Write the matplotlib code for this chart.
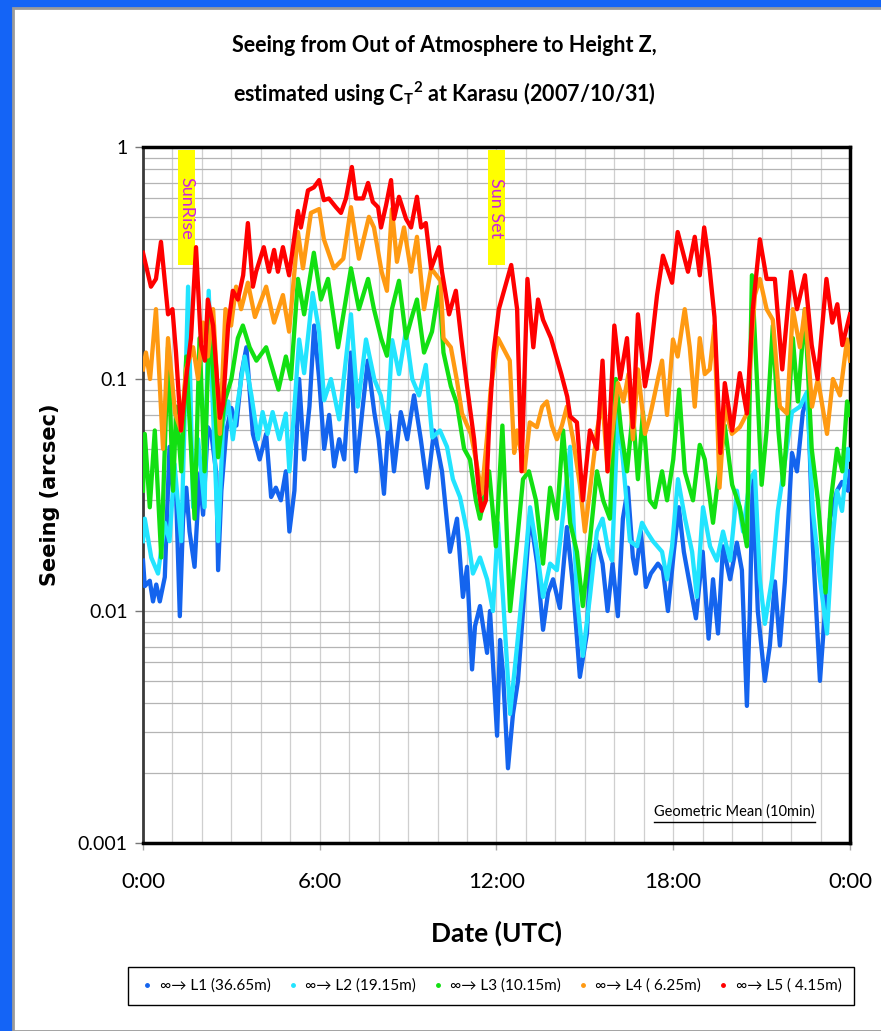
import matplotlib
matplotlib.use("Agg")
import matplotlib.pyplot as plt
from matplotlib.patches import Rectangle
from matplotlib.lines import Line2D
from matplotlib.ticker import FixedLocator, NullFormatter, LogLocator

# Seeing (arcsec), hours UTC
l1_hours = [0.0, 0.06, 0.23, 0.34, 0.45, 0.57, 0.74, 0.9, 1.02, 1.13, 1.25, 1.36, 1.47, 1.58, 1.75, 1.92,
            2.04, 2.2, 2.32, 2.49, 2.55, 2.66, 2.83, 3.0, 3.17, 3.34, 3.51, 3.73, 3.96, 4.18, 4.35, 4.51,
            4.68, 4.85, 4.97, 5.14, 5.3, 5.47, 5.65, 5.81, 5.98, 6.15, 6.32, 6.49, 6.66, 6.83, 7.06, 7.23,
            7.46, 7.63, 7.85, 8.0, 8.18, 8.35, 8.52, 8.75, 8.97, 9.2, 9.43, 9.65, 9.88, 10.15, 10.42, 10.66,
            10.86, 11.0, 11.17, 11.27, 11.44, 11.68, 11.78, 12.02, 12.12, 12.22, 12.39, 12.56, 12.73, 12.9,
            13.14, 13.38, 13.58, 13.75, 13.92, 14.15, 14.39, 14.6, 14.83, 15.07, 15.17, 15.41, 15.6, 15.77,
            15.94, 16.12, 16.29, 16.46, 16.63, 16.73, 16.9, 17.07, 17.24, 17.48, 17.65, 17.82, 18.02, 18.19,
            18.36, 18.53, 18.77, 19.0, 19.2, 19.35, 19.52, 19.69, 19.93, 20.16, 20.33, 20.5, 20.6, 20.7,
            20.87, 21.11, 21.28, 21.45, 21.62, 21.79, 22.03, 22.2, 22.4, 22.57, 22.74, 22.98, 23.15, 23.32,
            23.56, 23.73, 23.93, 24.0]
l1_seeing = [0.0165, 0.0128, 0.0135, 0.011, 0.013, 0.011, 0.014, 0.051, 0.033, 0.03, 0.0095, 0.025, 0.034,
             0.022, 0.0155, 0.039, 0.026, 0.062, 0.058, 0.039, 0.015, 0.033, 0.06, 0.075, 0.063, 0.105, 0.137,
             0.058, 0.045, 0.058, 0.031, 0.034, 0.03, 0.04, 0.022, 0.033, 0.10, 0.045, 0.076, 0.17, 0.10,
             0.05, 0.07, 0.042, 0.055, 0.045, 0.13, 0.04, 0.076, 0.12, 0.072, 0.055, 0.032, 0.07, 0.04,
             0.072, 0.055, 0.085, 0.055, 0.034, 0.06, 0.04, 0.018, 0.025, 0.0115, 0.0155, 0.0056, 0.0086,
             0.0105, 0.0066, 0.01, 0.0029, 0.0075, 0.0054, 0.0021, 0.0036, 0.005, 0.01, 0.026, 0.016, 0.0083,
             0.012, 0.0137, 0.0103, 0.023, 0.0127, 0.0052, 0.008, 0.0156, 0.02, 0.016, 0.01, 0.016, 0.0095,
             0.025, 0.034, 0.017, 0.0145, 0.022, 0.0127, 0.0145, 0.016, 0.015, 0.01, 0.018, 0.028, 0.018,
             0.0137, 0.0093, 0.018, 0.0076, 0.0137, 0.008, 0.019, 0.0137, 0.0197, 0.015, 0.0039, 0.01, 0.038,
             0.01, 0.005, 0.0071, 0.0134, 0.0071, 0.0134, 0.048, 0.04, 0.072, 0.085, 0.019, 0.005, 0.01,
             0.025, 0.033, 0.036, 0.033, 0.04]

l2_hours = [0.0, 0.06, 0.28, 0.51, 0.74, 0.9, 1.07, 1.3, 1.53, 1.7, 1.87, 2.09, 2.23, 2.38, 2.55, 2.72, 2.89,
            3.05, 3.22, 3.45, 3.68, 3.9, 4.06, 4.23, 4.4, 4.63, 4.85, 4.97, 5.14, 5.3, 5.47, 5.76, 5.98, 6.15,
            6.38, 6.66, 7.06, 7.29, 7.57, 7.85, 8.07, 8.29, 8.46, 8.69, 8.92, 9.14, 9.37, 9.6, 9.82, 10.08,
            10.32, 10.52, 10.76, 11.0, 11.2, 11.44, 11.68, 11.88, 12.05, 12.22, 12.46, 12.7, 12.9, 13.14,
            13.38, 13.58, 13.82, 14.05, 14.26, 14.5, 14.73, 14.93, 15.17, 15.41, 15.6, 15.8, 15.92, 16.12,
            16.29, 16.53, 16.77, 16.94, 17.1, 17.31, 17.62, 17.79, 17.96, 18.16, 18.4, 18.64, 18.8, 19.01,
            19.25, 19.48, 19.69, 19.93, 20.16, 20.37, 20.6, 20.77, 20.94, 21.11, 21.35, 21.55, 21.79, 22.03,
            22.3, 22.54, 22.74, 22.98, 23.22, 23.39, 23.56, 23.73, 23.93, 24.0]
l2_seeing = [0.02, 0.025, 0.017, 0.0145, 0.024, 0.02, 0.043, 0.02, 0.25, 0.028, 0.055, 0.028, 0.24, 0.071,
             0.02, 0.065, 0.08, 0.055, 0.08, 0.125, 0.085, 0.055, 0.072, 0.058, 0.072, 0.055, 0.071, 0.04,
             0.076, 0.148, 0.106, 0.235, 0.16, 0.081, 0.10, 0.067, 0.19, 0.076, 0.148, 0.10, 0.085, 0.061,
             0.147, 0.105, 0.16, 0.10, 0.085, 0.115, 0.056, 0.06, 0.051, 0.037, 0.031, 0.022, 0.0145, 0.017,
             0.0137, 0.01, 0.024, 0.0115, 0.0036, 0.0071, 0.013, 0.028, 0.018, 0.0115, 0.016, 0.015, 0.026,
             0.051, 0.0115, 0.0064, 0.0115, 0.022, 0.025, 0.018, 0.0165, 0.071, 0.045, 0.02, 0.019, 0.024,
             0.022, 0.02, 0.018, 0.0137, 0.019, 0.037, 0.025, 0.018, 0.0115, 0.028, 0.019, 0.0165, 0.022,
             0.0165, 0.033, 0.022, 0.037, 0.04, 0.0137, 0.0088, 0.0137, 0.027, 0.044, 0.072, 0.076, 0.088,
             0.027, 0.0137, 0.008, 0.019, 0.033, 0.027, 0.05, 0.045]

l3_hours = [0.0, 0.06, 0.23, 0.4, 0.62, 0.85, 1.02, 1.13, 1.3, 1.47, 1.75, 1.92, 2.09, 2.26, 2.55, 2.77, 3.0,
            3.22, 3.39, 3.62, 3.85, 4.18, 4.4, 4.6, 4.85, 5.02, 5.26, 5.47, 5.8, 6.04, 6.28, 6.62, 7.06, 7.33,
            7.64, 7.84, 8.08, 8.28, 8.45, 8.69, 8.93, 9.1, 9.3, 9.54, 9.81, 10.05, 10.2, 10.45, 10.66, 10.9,
            11.1, 11.3, 11.44, 11.75, 11.98, 12.2, 12.46, 12.7, 12.9, 13.1, 13.34, 13.58, 13.82, 14.05, 14.26,
            14.5, 14.73, 14.93, 15.17, 15.41, 15.62, 15.85, 16.05, 16.23, 16.43, 16.63, 16.8, 16.97, 17.2,
            17.38, 17.62, 17.79, 18.0, 18.2, 18.39, 18.67, 18.9, 19.07, 19.35, 19.52, 19.75, 20.0, 20.26,
            20.5, 20.67, 20.84, 21.0, 21.17, 21.38, 21.57, 21.73, 21.9, 22.06, 22.23, 22.47, 22.7, 22.91,
            23.17, 23.35, 23.56, 23.74, 23.9, 24.0]
l3_seeing = [0.033, 0.058, 0.028, 0.06, 0.017, 0.137, 0.033, 0.076, 0.04, 0.125, 0.025, 0.15, 0.04, 0.185,
             0.046, 0.08, 0.10, 0.15, 0.17, 0.137, 0.12, 0.137, 0.11, 0.09, 0.125, 0.10, 0.27, 0.19, 0.35,
             0.22, 0.27, 0.137, 0.30, 0.20, 0.27, 0.20, 0.15, 0.126, 0.20, 0.265, 0.15, 0.18, 0.22, 0.13,
             0.16, 0.25, 0.13, 0.093, 0.078, 0.05, 0.045, 0.03, 0.025, 0.04, 0.019, 0.063, 0.01, 0.02, 0.037,
             0.04, 0.03, 0.016, 0.034, 0.025, 0.06, 0.024, 0.018, 0.0105, 0.02, 0.04, 0.03, 0.025, 0.10, 0.06,
             0.04, 0.072, 0.037, 0.072, 0.03, 0.028, 0.04, 0.03, 0.045, 0.09, 0.04, 0.03, 0.052, 0.045, 0.024,
             0.037, 0.063, 0.035, 0.028, 0.019, 0.28, 0.10, 0.035, 0.06, 0.17, 0.06, 0.035, 0.07, 0.15, 0.08,
             0.20, 0.05, 0.03, 0.012, 0.03, 0.05, 0.04, 0.08, 0.07]

l4_hours = [0.0, 0.1, 0.24, 0.44, 0.68, 0.85, 1.09, 1.29, 1.46, 1.7, 1.87, 2.04, 2.2, 2.38, 2.61, 2.8, 2.99,
            3.16, 3.33, 3.56, 3.8, 4.18, 4.45, 4.75, 4.96, 5.26, 5.43, 5.7, 5.98, 6.14, 6.48, 6.8, 7.06, 7.33,
            7.67, 7.84, 8.1, 8.28, 8.45, 8.62, 8.86, 9.1, 9.3, 9.54, 9.78, 10.1, 10.2, 10.45, 10.66, 10.83,
            11.13, 11.3, 11.5, 11.7, 11.8, 12.05, 12.45, 12.6, 12.7, 12.95, 13.13, 13.37, 13.55, 13.71, 13.88,
            14.05, 14.22, 14.39, 14.6, 14.83, 15.0, 15.17, 15.41, 15.6, 15.77, 15.94, 16.12, 16.31, 16.48,
            16.63, 16.8, 17.04, 17.2, 17.48, 17.62, 17.79, 17.99, 18.15, 18.39, 18.56, 18.73, 18.9, 19.07,
            19.24, 19.4, 19.57, 19.75, 19.99, 20.26, 20.5, 20.77, 20.94, 21.17, 21.38, 21.62, 21.86, 22.06,
            22.3, 22.47, 22.71, 22.91, 23.22, 23.42, 23.66, 23.9, 24.0]
l4_seeing = [0.11, 0.13, 0.10, 0.20, 0.05, 0.15, 0.071, 0.06, 0.11, 0.137, 0.10, 0.175, 0.125, 0.20, 0.058,
             0.20, 0.17, 0.25, 0.20, 0.26, 0.185, 0.25, 0.175, 0.23, 0.16, 0.43, 0.30, 0.52, 0.54, 0.40, 0.30,
             0.33, 0.55, 0.33, 0.50, 0.45, 0.29, 0.24, 0.54, 0.32, 0.45, 0.29, 0.41, 0.20, 0.30, 0.265, 0.15,
             0.137, 0.098, 0.071, 0.058, 0.045, 0.032, 0.06, 0.09, 0.15, 0.12, 0.048, 0.06, 0.04, 0.065,
             0.062, 0.076, 0.08, 0.063, 0.055, 0.063, 0.076, 0.055, 0.035, 0.022, 0.033, 0.06, 0.08, 0.04,
             0.06, 0.096, 0.08, 0.105, 0.055, 0.11, 0.058, 0.068, 0.10, 0.12, 0.07, 0.148, 0.125, 0.20, 0.137,
             0.076, 0.15, 0.105, 0.11, 0.17, 0.034, 0.076, 0.058, 0.062, 0.071, 0.23, 0.27, 0.20, 0.18, 0.076,
             0.071, 0.20, 0.137, 0.20, 0.076, 0.10, 0.058, 0.10, 0.085, 0.148, 0.12]

l5_hours = [0.0, 0.27, 0.44, 0.61, 0.85, 1.0, 1.12, 1.29, 1.46, 1.63, 1.8, 1.97, 2.1, 2.2, 2.38, 2.61, 2.72,
            2.89, 3.05, 3.22, 3.4, 3.56, 3.73, 3.84, 4.1, 4.28, 4.45, 4.58, 4.75, 4.96, 5.26, 5.36, 5.6, 5.8,
            5.98, 6.14, 6.31, 6.55, 6.72, 6.89, 7.09, 7.23, 7.47, 7.64, 7.8, 7.98, 8.08, 8.25, 8.42, 8.52,
            8.69, 8.93, 9.1, 9.3, 9.44, 9.6, 9.78, 10.05, 10.15, 10.39, 10.62, 10.8, 11.0, 11.24, 11.4, 11.5,
            11.64, 11.75, 11.9, 12.08, 12.5, 12.7, 12.85, 13.05, 13.25, 13.41, 13.58, 13.85, 14.2, 14.4, 14.5,
            14.73, 14.93, 15.17, 15.41, 15.6, 15.77, 16.0, 16.2, 16.43, 16.63, 16.8, 17.04, 17.2, 17.45,
            17.65, 17.96, 18.15, 18.5, 18.73, 18.9, 19.05, 19.2, 19.4, 19.6, 19.75, 20.0, 20.26, 20.5, 20.7,
            20.94, 21.17, 21.45, 21.7, 22.0, 22.2, 22.47, 22.7, 22.9, 23.2, 23.4, 23.57, 23.74, 24.0]
l5_seeing = [0.35, 0.25, 0.27, 0.39, 0.19, 0.20, 0.13, 0.06, 0.10, 0.15, 0.37, 0.14, 0.12, 0.22, 0.17, 0.068,
             0.078, 0.17, 0.24, 0.22, 0.28, 0.47, 0.25, 0.29, 0.37, 0.29, 0.36, 0.29, 0.37, 0.28, 0.53, 0.45,
             0.65, 0.67, 0.72, 0.59, 0.60, 0.55, 0.52, 0.60, 0.82, 0.60, 0.60, 0.70, 0.58, 0.55, 0.45, 0.56,
             0.72, 0.49, 0.61, 0.49, 0.45, 0.61, 0.45, 0.47, 0.30, 0.37, 0.29, 0.19, 0.24, 0.15, 0.093, 0.055,
             0.033, 0.027, 0.030, 0.063, 0.13, 0.20, 0.31, 0.20, 0.04, 0.27, 0.137, 0.22, 0.18, 0.15, 0.105,
             0.084, 0.069, 0.065, 0.03, 0.06, 0.05, 0.12, 0.04, 0.17, 0.10, 0.15, 0.062, 0.19, 0.093, 0.12,
             0.23, 0.34, 0.26, 0.43, 0.29, 0.41, 0.28, 0.45, 0.33, 0.185, 0.048, 0.096, 0.06, 0.106, 0.071,
             0.20, 0.40, 0.27, 0.27, 0.11, 0.29, 0.20, 0.28, 0.14, 0.10, 0.27, 0.175, 0.21, 0.14, 0.19]

series_labels = ["\u221e\u2192 L1 (36.65m)", "\u221e\u2192 L2 (19.15m)", "\u221e\u2192 L3 (10.15m)",
                 "\u221e\u2192 L4 ( 6.25m)", "\u221e\u2192 L5 ( 4.15m)"]
series_colors = ["#1464EE", "#22E4FF", "#12E012", "#FF9A12", "#FF0000"]
x_ticks = [0, 6, 12, 18, 24]
x_tick_labels = ["0:00", "6:00", "12:00", "18:00", "0:00"]
y_ticks = [0.001, 0.01, 0.1, 1]
y_tick_labels = ["0.001", "0.01", "0.1", "1"]

NARROW = ["Lato", "DejaVu Sans"]

fig = plt.figure(figsize=(8.81, 10.31), dpi=100)
fig.patch.set_facecolor("#1464F6")
# white slide panel
fig.add_artist(Rectangle((13 / 881, 0), 1, 1 - 8 / 1031, transform=fig.transFigure,
                         facecolor="white", edgecolor="#9a9a9a", lw=2, zorder=0))

ax = fig.add_axes([143 / 881, 1 - 843 / 1031, 707 / 881, 696 / 1031])

all_hours = [l1_hours, l2_hours, l3_hours, l4_hours, l5_hours]
all_seeing = [l1_seeing, l2_seeing, l3_seeing, l4_seeing, l5_seeing]
for hrs, vals, col, lab in zip(all_hours, all_seeing, series_colors, series_labels):
    ax.plot(hrs, vals, color=col, lw=3.1, label=lab, solid_joinstyle="round", zorder=3)

ax.set_yscale("log")
ax.set_ylim(0.001, 1)
ax.set_xlim(0, 24)

ax.yaxis.set_major_locator(FixedLocator(y_ticks))
ax.set_yticklabels(y_tick_labels, family=NARROW, fontsize=14)
ax.yaxis.set_minor_locator(LogLocator(base=10, subs=range(2, 10)))
ax.yaxis.set_minor_formatter(NullFormatter())
ax.set_xticks(x_ticks)
ax.set_xticklabels(x_tick_labels, family=NARROW, fontsize=16)
ax.set_xticks(range(25), minor=True)

ax.grid(True, which="both", axis="y", color="#b4b4b4", lw=0.9)
ax.grid(True, which="both", axis="x", color="#cfcfcf", lw=0.9)
ax.set_axisbelow(True)
ax.tick_params(axis="y", which="major", direction="out", length=6, width=1, color="#777777", pad=5)
ax.tick_params(axis="y", which="minor", length=0)
ax.tick_params(axis="x", which="major", direction="out", length=5, width=1, color="#aaaaaa", pad=16)
ax.tick_params(axis="x", which="minor", length=0)

for side in ["top", "right", "bottom"]:
    ax.spines[side].set_linewidth(2.5)
    ax.spines[side].set_color("black")
ax.spines["left"].set_linewidth(2)
ax.spines["left"].set_color("#3a3a3a")

ax.set_ylabel("Seeing (arcsec)", family="DejaVu Sans", fontweight="bold", fontsize=15)
ax.yaxis.set_label_coords(-0.117, 0.5)
ax.set_xlabel("Date (UTC)", family=NARROW, fontweight="bold", fontsize=19)
ax.xaxis.set_label_coords(0.5, -0.112)

# sunrise / sunset markers
xt = ax.get_xaxis_transform()
for x0, x1, txt in [(1.19, 1.77, "SunRise"), (11.71, 12.29, "Sun Set")]:
    ax.axvspan(x0, x1, ymin=0.83, ymax=0.995, facecolor="#FFFF00", edgecolor="none", zorder=2)
    ax.text((x0 + x1) / 2, 0.9125, txt, rotation=270, transform=xt, ha="center", va="center",
            color="#CC22DD", fontsize=13, family=NARROW, zorder=4)

gm = ax.text(0.837, 0.045, "Geometric Mean (10min)", transform=ax.transAxes, ha="center",
             va="center", fontsize=10.5, family=NARROW, zorder=4)

fig.text(0.504, 1 - 45 / 1031, "Seeing from Out of Atmosphere to Height Z,", ha="center",
         va="center", fontsize=15.5, fontweight="bold", family=NARROW)
fig.text(0.504, 1 - 94 / 1031, r"estimated using C$_\mathregular{T}$$^\mathregular{2}$ at Karasu (2007/10/31)",
         ha="center", va="center", fontsize=15.5, fontweight="bold", family=NARROW)

handles = [Line2D([], [], color=c, marker="o", ms=2.5, ls="") for c in series_colors]
fig.legend(handles, series_labels, loc="center", ncol=5,
           bbox_to_anchor=(491 / 881, 1 - 986 / 1031),
           frameon=True, fancybox=False, edgecolor="black", framealpha=1, handletextpad=0.35,
           handlelength=0.9, columnspacing=1.0, borderpad=0.8, prop={"family": NARROW, "size": 11})

# underline for the geometric mean note
fig.canvas.draw()
bb = gm.get_window_extent().transformed(ax.transAxes.inverted())
ax.plot([bb.x0, bb.x1], [bb.y0 - 0.004, bb.y0 - 0.004], transform=ax.transAxes,
        color="black", lw=1, zorder=4, clip_on=False)

fig.savefig("out.png", dpi=100, facecolor=fig.get_facecolor())
